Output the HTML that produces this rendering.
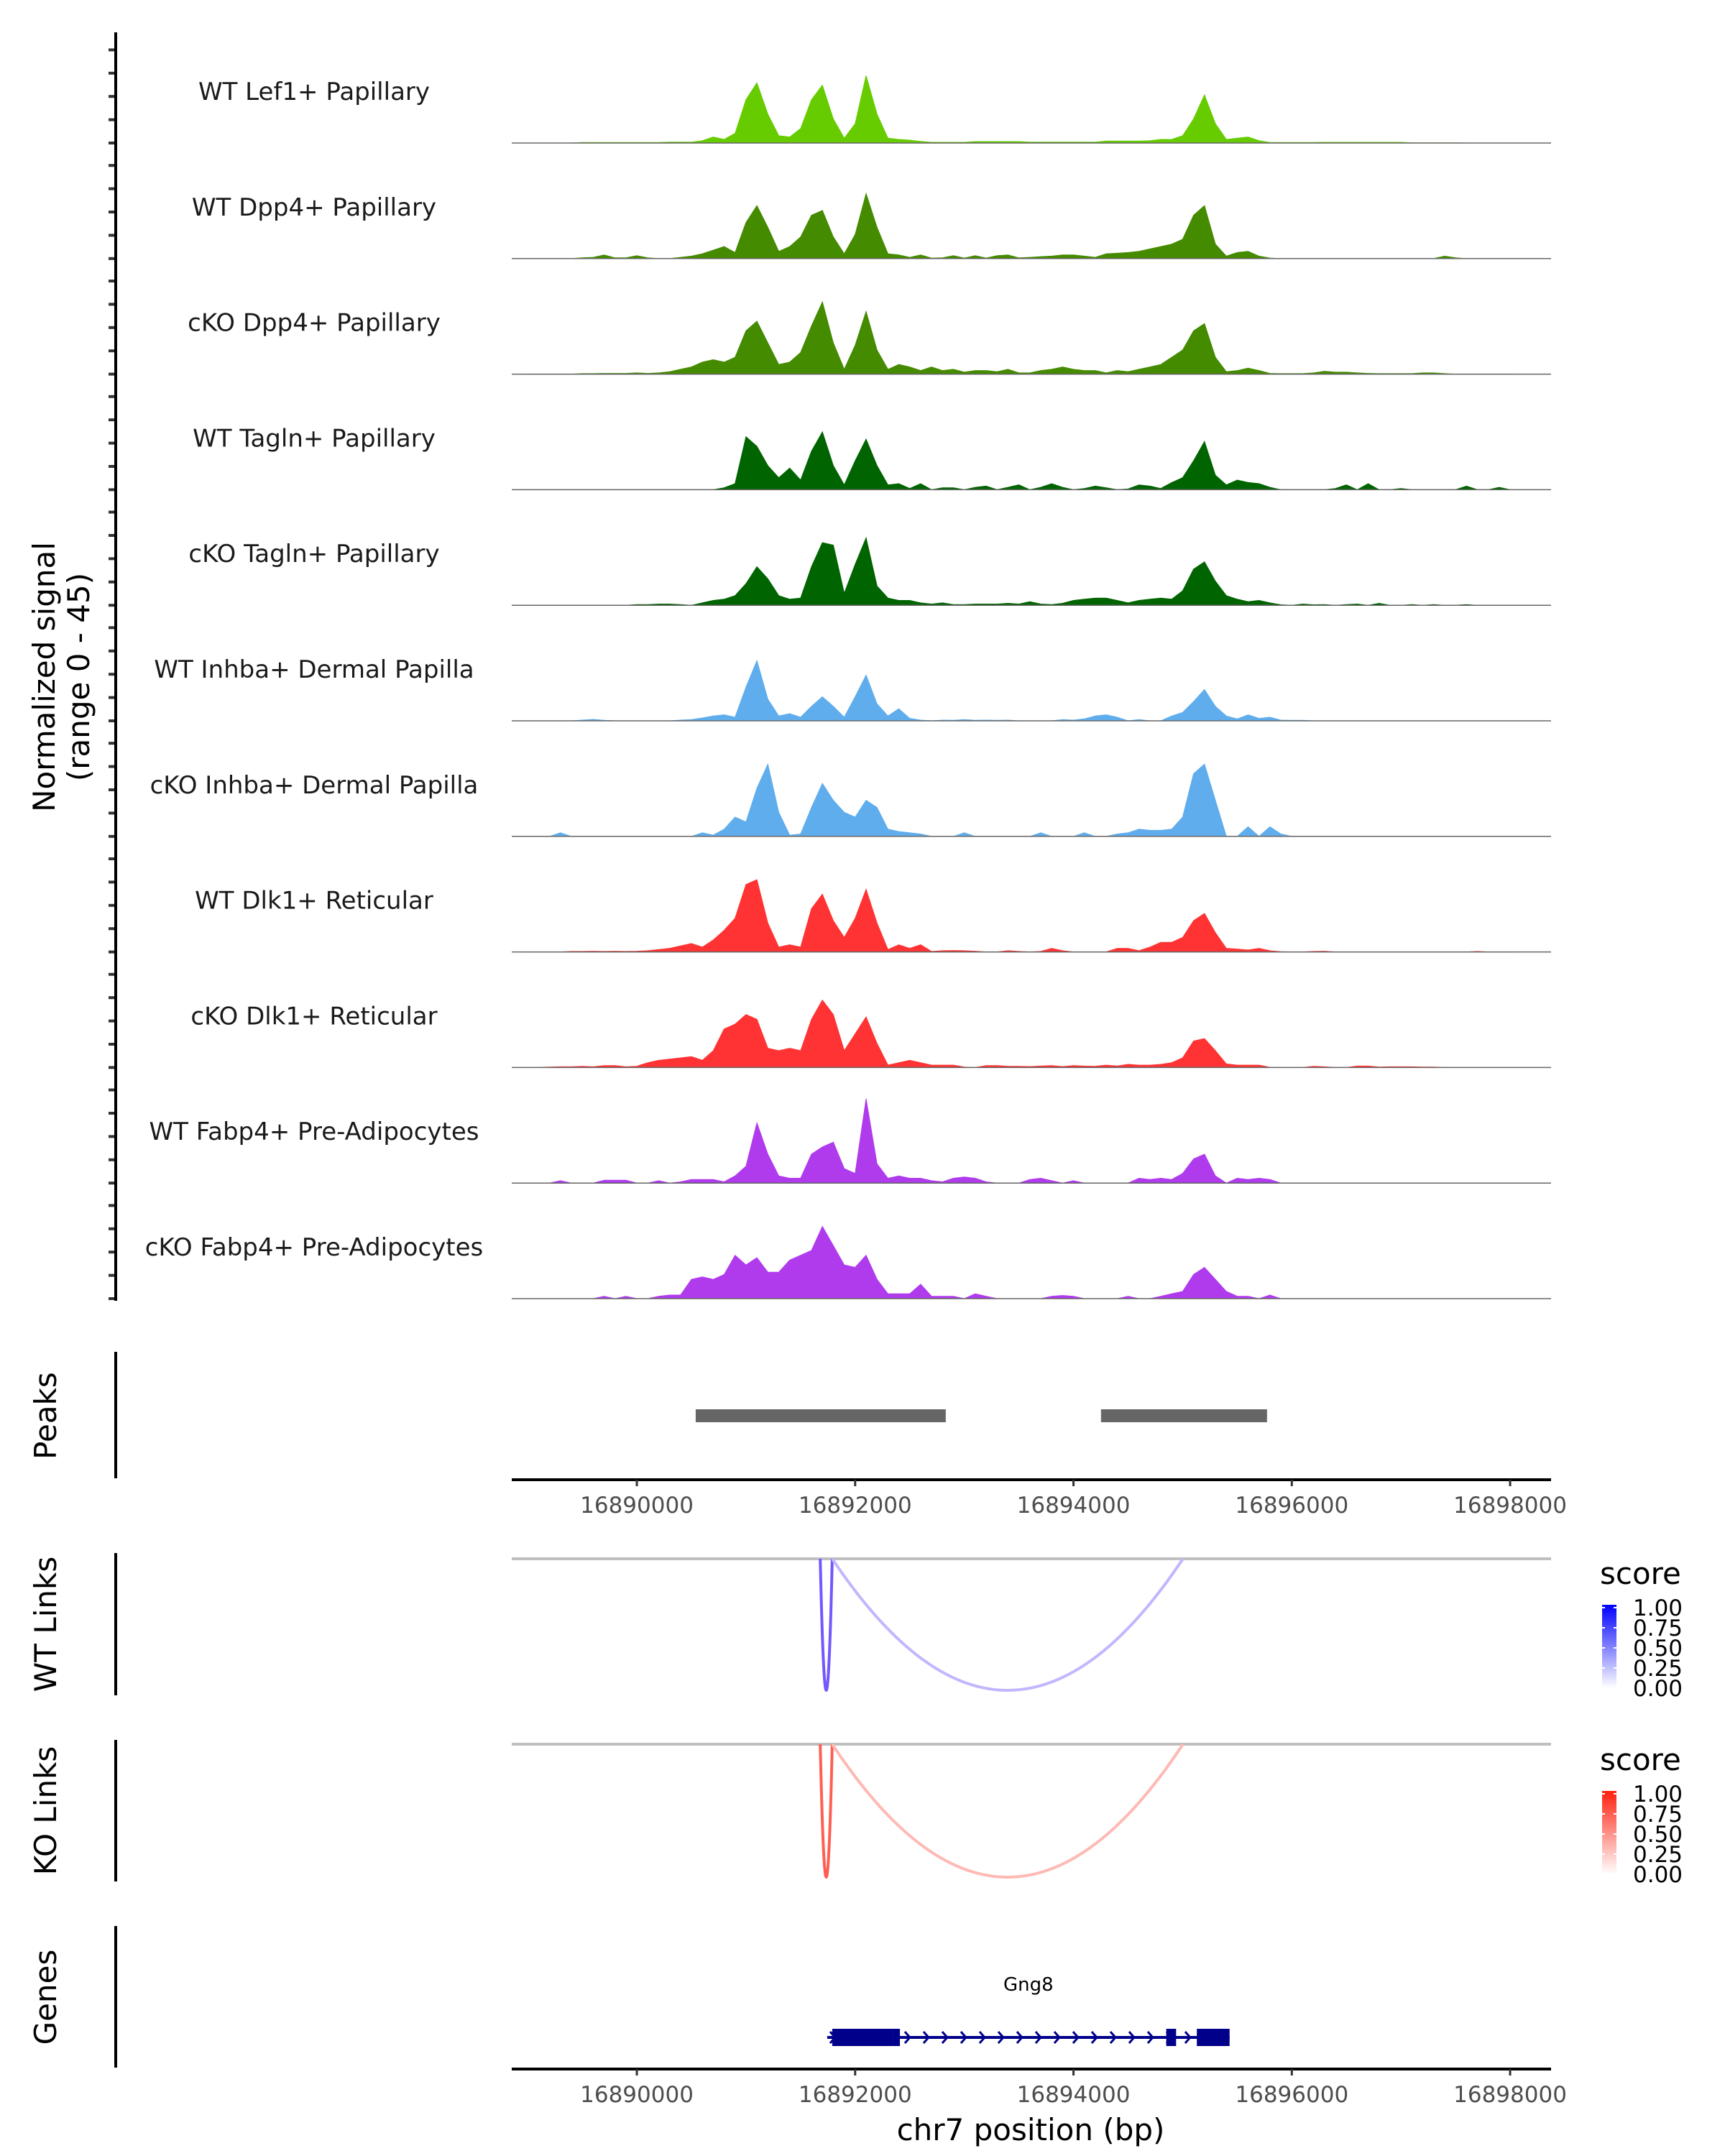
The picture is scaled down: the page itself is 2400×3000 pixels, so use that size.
<!DOCTYPE html>
<html><head><meta charset="utf-8">
<style>
html,body{margin:0;padding:0;background:#fff;}
svg{display:block;font-family:"DejaVu Sans","Liberation Sans",sans-serif;}
</style></head>
<body>
<svg id="chart" width="2400" height="3000" viewBox="0 0 2400 3000" xmlns="http://www.w3.org/2000/svg">
<g id="tracks"></g>
<g id="axes"></g>
</svg>
<script>
// ---- data ----
const trackNames = ["WT Lef1+ Papillary","WT Dpp4+ Papillary","cKO Dpp4+ Papillary","WT Tagln+ Papillary","cKO Tagln+ Papillary","WT Inhba+ Dermal Papilla","cKO Inhba+ Dermal Papilla","WT Dlk1+ Reticular","cKO Dlk1+ Reticular","WT Fabp4+ Pre-Adipocytes","cKO Fabp4+ Pre-Adipocytes"];
const trackColors = ["#66cc00","#458b00","#458b00","#006400","#006400","#5fadec","#5fadec","#ff3333","#ff3333","#b03bed","#b03bed"];
const binStart = 16889000;
const binSize = 100;
const sig0 = [0,0,0,0,0,0.2,0.2,0.2,0.2,0.2, 0.2,0.2,0.2,0.4,0.4,0.4,1,2.5,1.5,4, 18,25,12,3,2.5,6,18,24,10,2, 8,28,12,2,1.5,1.2,0.7,0.3,0.3,0.3, 0.3,0.6,0.6,0.6,0.6,0.6,0.4,0.4,0.4,0.4, 0.4,0.4,0.4,0.8,0.8,0.8,0.8,1,1.5,1.5, 3,10,20,8,1.5,2,2.5,1,0.2,0.2, 0.2,0.2,0.2,0.3,0.3,0.3,0.3,0.3,0.3,0.3, 0.3,0.1,0.1,0.1,0.1,0.1,0,0,0,0,0];
const sig1 = [0,0,0,0,0,0.3,0.5,1.5,0.3,0.3, 1.2,0.3,0,0,0.5,1,2,3.5,5,2.5, 15,22,13,3,5,9,18,20,9,2, 10,27,13,2,1.5,0.5,1.5,0.2,0.3,1.2, 0.2,1.2,0.2,1.2,1.5,0.3,0.5,0.8,1,1.5, 1.5,1,0.5,2,2.2,2.5,3,4,5,6, 8,18,22,6,1,2.5,3,1,0.2,0, 0,0,0,0,0,0,0,0,0,0, 0,0,0,0,1,0.3,0,0,0,0,0];
const sig2 = [0,0,0,0,0,0.2,0.2,0.3,0.3,0.3, 0.5,0.3,0.5,1,2,3,5,6,5,7, 18,22,13,4,5,9,20,30,13,2, 12,26,10,2,4,3,1.5,3,1.5,2, 0.8,1.5,1.5,1,2,0.5,0.5,1.5,2,3, 2,1.5,1.5,0.5,1.5,1,2,3,4,7, 10,18,21,7,1,1.5,2.5,1.5,0.3,0.2, 0.2,0.2,0.5,1.2,0.8,0.8,0.5,0.3,0.2,0.2, 0.2,0.2,0.5,0.5,0.2,0,0,0,0,0,0];
const sig3 = [0,0,0,0,0,0,0,0,0,0, 0,0,0,0,0,0,0,0,0.8,2.5, 22,18,10,5,9,4,16,24,10,2, 12,21,10,2,2.5,0.5,2.5,0,0.8,0.8, 0,1,1.5,0,1,2,0,1,2.5,1, 0,0.5,1.5,0.8,0,0.3,2,1.5,0.5,3, 5,12,20,6,2,4,3,2.5,1,0, 0,0,0,0,0.5,2,0,2.5,0,0, 0.5,0,0,0,0,0,1.5,0,0,1,0];
const sig4 = [0,0,0,0,0,0,0,0,0,0, 0.3,0.3,0.5,0.5,0.3,0,1,2,2.5,4, 9,16,11,4,2.5,3,16,26,25,5, 17,28,8,3,2,2,1,0.5,1,0.3, 0.3,0.5,0.5,0.5,0.8,0.5,1.5,0.5,0.3,0.8, 2,2.5,3,3,2,1,2,2.5,3,2.5, 6,15,18,10,4,2.5,1.5,2,1,0.2, 0,0.5,0.2,0.3,0,0.3,0.5,0,0.8,0, 0,0.3,0,0.3,0,0,0.3,0,0,0,0];
const sig5 = [0,0,0,0,0,0.3,0.6,0.2,0,0, 0,0,0,0,0.3,0.5,1.2,2,2.5,1.5, 14,25,9,2,3,1.5,6,10,6,1.5, 10,19,7,2,5,1,0.3,0,0.3,0.2, 0.5,0.2,0.3,0.2,0.3,0,0,0,0,0.5, 0.3,0.8,2,2.5,1.5,0,0.5,0,0,2, 3.5,8,13,6,2,0.8,2.5,1,1.5,0.3, 0.2,0.2,0,0,0,0,0,0,0,0, 0,0,0,0,0,0,0,0,0,0,0];
const sig6 = [0,0,0,1.5,0,0,0,0,0,0, 0,0,0,0,0,0,1.5,0.5,3,8, 6,20,30,10,0.5,1,12,22,15,10, 8,15,12,3,2,1.5,1,0,0,0, 1.5,0,0,0,0,0,0,1.5,0,0, 0,1.5,0,0,1,1.5,3,2.5,2.5,3, 8,26,30,15,0,0,4,0,4,1, 0,0,0,0,0,0,0,0,0,0, 0,0,0,0,0,0,0,0,0,0,0];
const sig7 = [0,0,0,0,0.2,0.2,0.3,0.2,0.3,0.2, 0.3,0.5,1,1.5,2.5,3.5,2,5,9,14, 28,30,12,2,3,2,18,24,13,6, 14,26,12,1,3,1.5,3,0.2,0.5,0.6, 0.5,0.3,0,0,0.5,0.2,0,0.2,1.5,0.5, 0,0,0,0,1.5,1.5,0.5,2,4,4, 6,13,16,8,1.5,1.2,0.8,1.5,0.5,0.1, 0,0,0.2,0.3,0,0,0,0,0,0, 0,0,0,0,0,0,0,0.2,0,0,0];
const sig8 = [0,0,0.2,0.3,0.3,0.5,0.3,0.8,0.8,0.3, 0.5,2,3,3.5,4,4.5,3,7,16,18, 22,20,8,7,8,7,20,28,22,7, 14,21,10,1,2,3,2,1,1,1, 0.2,0,0.8,0.8,0.5,0.5,0.4,0.6,0.8,0.4, 0.8,0.6,0.5,1,0.6,1.3,1,1,1.3,2, 4,11,12,7,1.5,1,1,1,0.1,0, 0,0,0.5,0.3,0,0,0.6,0.6,0.2,0.3, 0.3,0.3,0.2,0.2,0,0,0,0,0,0,0];
const sig9 = [0,0,0,1,0,0,0,1.2,1.2,1.2, 0,0,1,0,0.5,1.5,1.5,1.5,0.5,3, 7,25,12,3,2,2,12,15,17,6, 4,35,8,2,3,2,2,1,0.5,2, 2.5,2,0.5,0,0,0,1.5,2,1,0, 1,0,0,0,0,0,2,1.5,2,1.5, 4,10,12,3,0,2,1.5,2,1.5,0, 0,0,0,0,0,0,0,0,0,0, 0,0,0,0,0,0,0,0,0,0,0];
const sig10 = [0,0,0,0,0,0,0,1,0,1, 0,0,1,1.5,1.5,8,9,8,10,18, 14,17,11,11,16,18,20,30,22,14, 13,18,8,2,2,2,6,1,1,1, 0,2,1,0,0,0,0,0,1,1.3, 1,0,0,0,0,1,0,0,1,2, 3,10,13,8,3,1,1,0,1.5,0, 0,0,0,0,0,0,0,0,0,0, 0,0,0,0,0,0,0,0,0,0,0];
const signals = [sig0,sig1,sig2,sig3,sig4,sig5,sig6,sig7,sig8,sig9,sig10];
const peakStarts = [16890539, 16894252];
const peakEnds = [16892830, 16895773];
const xTicks = [16890000,16892000,16894000,16896000,16898000];
const linkStarts = [16891680, 16891790];
const linkEnds = [16891790, 16895003];
const linkScores = [0.8, 0.35];
const legendLabels = ["1.00","0.75","0.50","0.25","0.00"];
const geneName = "Gng8";
const geneStart = 16891744, geneEnd = 16895430;
const exonStarts = [16891790, 16892350, 16894850, 16895130];
const exonEnds = [16892350, 16892410, 16894940, 16895430];

// ---- scales ----
const X0 = 712, X1 = 2158, BP0 = 16888854, BP1 = 16898375;
function xs(bp){ return X0 + (bp - BP0) / (BP1 - BP0) * (X1 - X0); }
const TRACK0 = 199, TRACKSTEP = 160.8, PXPERUNIT = 3.35;
function ys(v, base){ return base - v * PXPERUNIT; }

const NS = "http://www.w3.org/2000/svg";
function mk(tag, attrs, parent){ const e = document.createElementNS(NS, tag); for (const k in attrs) e.setAttribute(k, attrs[k]); parent.appendChild(e); return e; }
const svg = document.getElementById('chart');
const tracksG = document.getElementById('tracks');
const axesG = document.getElementById('axes');

// coverage tracks
signals.forEach((sig, t) => {
  const base = TRACK0 + t * TRACKSTEP;
  const g = mk('g', {}, tracksG);
  
  
  let d = 'M' + xs(binStart - binSize/2) + ',' + base;
  sig.forEach((v, i) => {
    const c = binStart + i * binSize;
    d += ' L' + xs(c).toFixed(1) + ',' + ys(v, base).toFixed(1);
  });
  d += ' L' + xs(binStart + (sig.length - 0.5) * binSize) + ',' + base + ' Z';
  const area = mk('path', {d: d, fill: trackColors[t], stroke: trackColors[t], 'stroke-width': 1}, g);
  
  
  const bl = mk('line', {x1: X0, x2: X1, y1: base, y2: base, stroke: '#666', 'stroke-width': 1.5}, g);
  
  
  const lab = mk('text', {x: 437, y: base - 60, 'text-anchor': 'middle', 'font-size': 34, fill: '#1a1a1a'}, g);
  lab.textContent = trackNames[t];
  
  
  for (let k = 0; k < 5; k++) {
    const ty = base - k * 32.4;
    const tk = mk('line', {x1: 151, x2: 161, y1: ty, y2: ty, stroke: '#333', 'stroke-width': 4}, axesG);
    
    
  }
});
const yax = mk('line', {x1: 161, x2: 161, y1: 45, y2: TRACK0 + 10*TRACKSTEP + 3, stroke: '#000', 'stroke-width': 4}, axesG);


const yt = mk('text', {transform: 'translate(76,942) rotate(-90)', 'text-anchor': 'middle', 'font-size': 42, fill: '#000'}, axesG);
yt.textContent = 'Normalized signal';


const yt2 = mk('text', {transform: 'translate(124,942) rotate(-90)', 'text-anchor': 'middle', 'font-size': 42, fill: '#000'}, axesG);
yt2.textContent = '(range 0 - 45)';



function panelAxis(y1, y2, title, cy){
  const l = mk('line', {x1: 161, x2: 161, y1: y1, y2: y2, stroke: '#000', 'stroke-width': 4}, axesG);
  
  
  const t = mk('text', {transform: 'translate(78,' + cy + ') rotate(-90)', 'text-anchor': 'middle', 'font-size': 42, fill: '#000'}, axesG);
  t.textContent = title;
  
  
}
function xAxis(y){
  const l = mk('line', {x1: X0, x2: X1, y1: y, y2: y, stroke: '#000', 'stroke-width': 4}, axesG);
  
  
  xTicks.forEach(v => {
    const tk = mk('line', {x1: xs(v), x2: xs(v), y1: y, y2: y + 9, stroke: '#333', 'stroke-width': 3}, axesG);
    
    
    const tl = mk('text', {x: xs(v), y: y + 46, 'text-anchor': 'middle', 'font-size': 31, fill: '#4d4d4d'}, axesG);
    tl.textContent = v;
    
    
  });
}

// peaks
panelAxis(1881, 2057, 'Peaks', 1970);
peakStarts.forEach((s, i) => {
  const r = mk('rect', {x: xs(s), y: 1961, width: xs(peakEnds[i]) - xs(s), height: 18, fill: '#666'}, tracksG);
  
  
});
xAxis(2059);

// links
function linksPanel(top, bottom, title, hue, ly, axTop, axBot){
  panelAxis(axTop, axBot, title, (axTop + axBot) / 2);
  const gl = mk('line', {x1: X0, x2: X1, y1: top, y2: top, stroke: '#bfbfbf', 'stroke-width': 4}, tracksG);
  
  
  linkStarts.forEach((s, i) => {
    const a = xs(s), b = xs(linkEnds[i]), m = (a + b) / 2;
    const sc = linkScores[i];
    const col = hue === 'blue' ? `rgb(${Math.round(255 - 175*sc)},${Math.round(255 - 210*sc)},255)` : `rgb(255,${Math.round(255 - 200*sc)},${Math.round(255 - 215*sc)})`;
    const p = mk('path', {d: `M${a},${top} Q${m},${2*bottom - top} ${b},${top}`, fill: 'none', stroke: col, 'stroke-width': 4}, tracksG);
    
    
  });
  const gid = 'grad-' + hue;
  const defs = mk('defs', {}, svg);
  const lg = mk('linearGradient', {id: gid, x1: 0, y1: 1, x2: 0, y2: 0}, defs);
  mk('stop', {offset: 0, 'stop-color': '#ffffff'}, lg);
  mk('stop', {offset: 1, 'stop-color': hue === 'blue' ? '#0000ff' : '#ff2010'}, lg);
  const st = mk('text', {x: 2226, y: ly, 'font-size': 42, fill: '#000'}, axesG);
  st.textContent = 'score';
  
  
  const cb = mk('rect', {x: 2229, y: ly + 29, width: 20, height: 116, fill: `url(#${gid})`}, axesG);
  
  
  legendLabels.forEach((lab, k) => {
    const yy = ly + 33 + k * 28;
    mk('line', {x1: 2229, x2: 2233, y1: yy, y2: yy, stroke: '#fff', 'stroke-width': 2}, axesG);
    mk('line', {x1: 2245, x2: 2249, y1: yy, y2: yy, stroke: '#fff', 'stroke-width': 2}, axesG);
    const tl = mk('text', {x: 2272, y: yy + 11, 'font-size': 31, fill: '#000'}, axesG);
    tl.textContent = lab;
    
    
  });
}
linksPanel(2169, 2352, 'WT Links', 'blue', 2204, 2161, 2359);
linksPanel(2427, 2612, 'KO Links', 'red', 2463, 2421, 2618);

// genes
panelAxis(2680, 2877, 'Genes', 2779);
const gy = 2835;
const gl = mk('line', {x1: xs(geneStart), x2: xs(geneEnd), y1: gy, y2: gy, stroke: '#00008b', 'stroke-width': 4}, tracksG);


for (let x = xs(geneStart) + 4; x < xs(geneEnd) - 10; x += 26) {
  const c = mk('path', {d: `M${x},${gy-8} L${x+7},${gy} L${x},${gy+8}`, fill: 'none', stroke: '#00008b', 'stroke-width': 3}, tracksG);
  
  
}
exonStarts.forEach((s, i) => {
  const r = mk('rect', {x: xs(s), y: gy - 12, width: xs(exonEnds[i]) - xs(s), height: 24, fill: '#00008b'}, tracksG);
  
  
});
const gn = mk('text', {x: xs((geneStart + geneEnd)/2), y: 2770, 'text-anchor': 'middle', 'font-size': 26, fill: '#000'}, tracksG);
gn.textContent = geneName;


xAxis(2879);
const xt = mk('text', {x: 1434, y: 2978, 'text-anchor': 'middle', 'font-size': 42, fill: '#000'}, axesG);
xt.textContent = 'chr7 position (bp)';


</script>
</body></html>
